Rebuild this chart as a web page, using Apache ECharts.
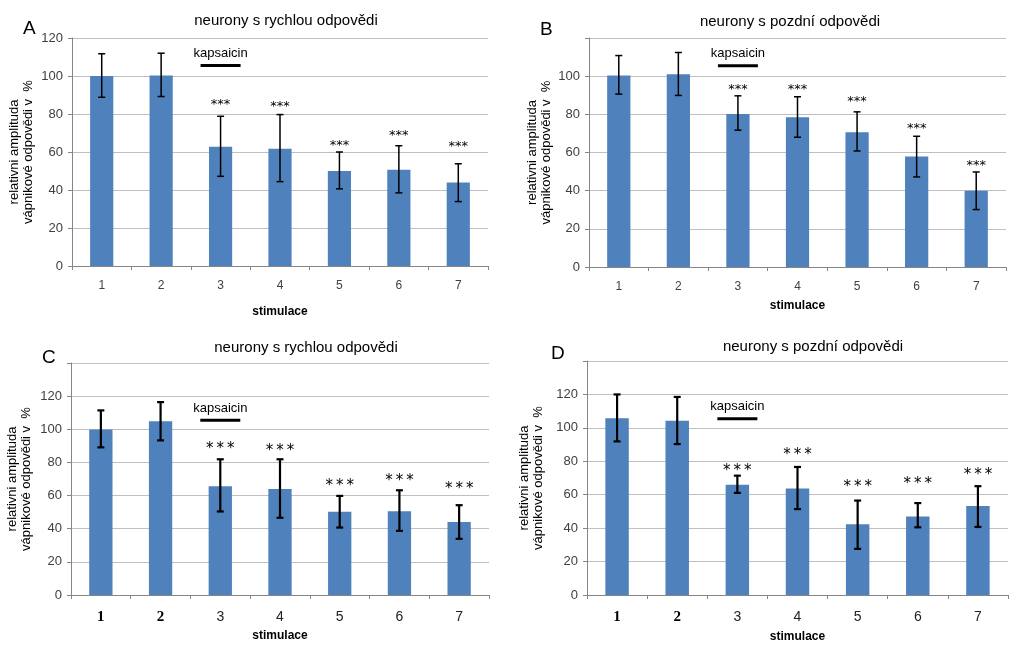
<!DOCTYPE html>
<html>
<head>
<meta charset="utf-8">
<script src="https://cdn.jsdelivr.net/npm/echarts@6/dist/echarts.min.js"></script>
<style>
  html, body { margin: 0; padding: 0; background: #fff; }
  #main { width: 1023px; height: 657px; }
</style>
</head>
<body>
<div id="main"></div>
<script>
// values
var categories = ['1', '2', '3', '4', '5', '6', '7'];

var meanA = [100, 100.3, 62.8, 61.7, 50, 50.7, 43.9];
var hiA   = [111.7, 112, 78.8, 79.7, 60, 63.3, 53.8];
var loA   = [88.8, 89.2, 47.2, 44.4, 40.6, 38.5, 33.9];
var starA = [null, null, 86.9, 85.8, 65.4, 70.5, 64.9];

var meanB = [100.3, 101, 80.2, 78.5, 70.6, 57.9, 40];
var hiB   = [110.8, 112.4, 89.7, 89.2, 81.3, 68.5, 49.8];
var loB   = [90.6, 89.9, 71.7, 68, 60.8, 47.2, 30.1];
var starB = [null, null, 95.1, 94.6, 88.6, 74.6, 55.1];

var meanC = [99.9, 104.8, 65.6, 64, 50.2, 50.6, 44.1];
var hiC   = [111.4, 116.4, 81.9, 81.9, 59.8, 63.2, 54.2];
var loC   = [89.1, 93.3, 50.4, 46.6, 40.7, 38.7, 33.9];
var starC = [null, null, 90.3, 89.3, 68.2, 71.2, 66.2];

var meanD = [105.7, 104.2, 65.9, 63.7, 42.3, 47, 53.2];
var hiD   = [120, 118.5, 71.4, 76.6, 56.5, 55, 65.1];
var loD   = [91.9, 90.3, 61.1, 51.4, 27.6, 40.5, 40.7];
var starD = [null, null, 76.4, 86.3, 66.9, 68.8, 74];

var kapsaicinAt = [2, 105.5];   // category index, value

var titles = ['neurony s rychlou odpovědi', 'neurony s pozdní odpovědi',
              'neurony s rychlou odpovědi', 'neurony s pozdní odpovědi'];
var letters = ['A', 'B', 'C', 'D'];

var panels = [
  { mean: meanA, hi: hiA, lo: loA, star: starA, max: 120, hideTop: false,
    grid: { left: 72, top: 38, width: 416, height: 228 },
    title: [286, 13], letter: [23, 19], nameGap: 40, yGap: 37, big: false },
  { mean: meanB, hi: hiB, lo: loB, star: starB, max: 120, hideTop: true,
    grid: { left: 589, top: 38, width: 417, height: 229 },
    title: [790, 14], letter: [540, 20], nameGap: 33, yGap: 36, big: false },
  { mean: meanC, hi: hiC, lo: loC, star: starC, max: 140, hideTop: true,
    grid: { left: 71, top: 363, width: 418, height: 232 },
    title: [306, 340], letter: [42, 348], nameGap: 35, yGap: 38, big: true },
  { mean: meanD, hi: hiD, lo: loD, star: starD, max: 140, hideTop: true,
    grid: { left: 587, top: 361, width: 421, height: 234 },
    title: [813, 339], letter: [551, 344], nameGap: 36, yGap: 42, big: true }
];

var FONT = 'Liberation Sans';
var grids = [], xAxes = [], yAxes = [], series = [], titleList = [];

panels.forEach(function (p, k) {
  grids.push(p.grid);
  titleList.push({
    text: titles[k], left: p.title[0], top: p.title[1], textAlign: 'center', padding: 0,
    textStyle: { fontFamily: FONT, fontSize: 15, fontWeight: 'normal', color: '#000' }
  });
  titleList.push({
    text: letters[k], left: p.letter[0], top: p.letter[1], padding: 0,
    textStyle: { fontFamily: FONT, fontSize: 19, fontWeight: 'normal', color: '#000' }
  });

  xAxes.push({
    type: 'category', gridIndex: k, data: categories,
    name: 'stimulace', nameLocation: 'middle', nameGap: p.nameGap,
    nameTextStyle: { fontFamily: FONT, fontSize: 12, fontWeight: 'bold', color: '#000' },
    axisLine: { lineStyle: { color: '#868686' } },
    axisTick: { show: true, length: 4, lineStyle: { color: '#868686' } },
    axisLabel: p.big ? {
      margin: 15,
      formatter: function (v, i) { return i < 2 ? '{b|' + v + '}' : '{n|' + v + '}'; },
      rich: {
        b: { fontFamily: 'Liberation Serif', fontWeight: 'bold', fontSize: 15, color: '#000' },
        n: { fontFamily: FONT, fontSize: 14, color: '#222' }
      }
    } : { margin: 14, fontFamily: FONT, fontSize: 12, color: '#404040' }
  });

  yAxes.push({
    type: 'value', gridIndex: k, min: 0, max: p.max, interval: 20,
    name: 'relativni amplituda\nvápnikové odpovědi v  %',
    nameLocation: 'middle', nameGap: p.yGap,
    nameTextStyle: { fontFamily: FONT, fontSize: 13, color: '#000', lineHeight: 14 },
    axisLine: { show: true, lineStyle: { color: '#868686' } },
    axisTick: { show: true, length: 4, lineStyle: { color: '#868686' } },
    splitLine: { lineStyle: { color: '#bfbfbf', width: 1 } },
    axisLabel: {
      margin: 9, fontFamily: FONT, fontSize: 13, color: '#404040',
      formatter: function (v) { return (p.hideTop && v === p.max) ? '' : String(v); }
    }
  });

  series.push({
    type: 'bar', xAxisIndex: k, yAxisIndex: k, data: p.mean,
    barWidth: '39%', itemStyle: { color: '#4f81bd' }, silent: true
  });

  var errData = p.mean.map(function (m, i) { return [i, p.lo[i], p.hi[i]]; });
  var lw = p.big ? 2.2 : 1.5;
  series.push({
    type: 'custom', xAxisIndex: k, yAxisIndex: k, data: errData,
    encode: { x: 0, y: [1, 2] }, silent: true, z: 5,
    renderItem: function (params, api) {
      var lo = api.coord([api.value(0), api.value(1)]);
      var hi = api.coord([api.value(0), api.value(2)]);
      var c = 3.5, st = { stroke: '#000', lineWidth: lw };
      return { type: 'group', children: [
        { type: 'line', shape: { x1: lo[0], y1: lo[1], x2: hi[0], y2: hi[1] }, style: st },
        { type: 'line', shape: { x1: lo[0] - c, y1: lo[1], x2: lo[0] + c, y2: lo[1] }, style: st },
        { type: 'line', shape: { x1: hi[0] - c, y1: hi[1], x2: hi[0] + c, y2: hi[1] }, style: st }
      ] };
    }
  });

  var starData = [];
  p.star.forEach(function (s, i) { if (s !== null) starData.push([i, s]); });
  var fs = p.big ? 15 : 13;
  series.push({
    type: 'custom', xAxisIndex: k, yAxisIndex: k, data: starData,
    encode: { x: 0, y: 1 }, silent: true, z: 6,
    renderItem: function (params, api) {
      var pt = api.coord([api.value(0), api.value(1)]);
      return { type: 'text', style: {
        x: pt[0], y: pt[1] + fs * 0.28,
        text: p.big ? '*\u2009*\u2009*' : '***',
        align: 'center', verticalAlign: 'middle',
        fontFamily: 'DejaVu Sans', fontSize: fs, fill: '#000'
      } };
    }
  });

  series.push({
    type: 'custom', xAxisIndex: k, yAxisIndex: k, data: [kapsaicinAt],
    encode: { x: 0, y: 1 }, silent: true, z: 6,
    renderItem: function (params, api) {
      var pt = api.coord([api.value(0), api.value(1)]);
      return { type: 'group', children: [
        { type: 'line', shape: { x1: pt[0] - 20, y1: pt[1], x2: pt[0] + 20, y2: pt[1] },
          style: { stroke: '#000', lineWidth: 3 } },
        { type: 'text', style: { x: pt[0], y: pt[1] - 12, text: 'kapsaicin',
          align: 'center', verticalAlign: 'middle', fontFamily: FONT,
          fontSize: 13, fill: '#000' } }
      ] };
    }
  });
});

var myChart = echarts.init(document.getElementById('main'));
myChart.setOption({
  backgroundColor: '#fff',
  animation: false,
  title: titleList,
  grid: grids,
  xAxis: xAxes,
  yAxis: yAxes,
  series: series
});
</script>
</body>
</html>
